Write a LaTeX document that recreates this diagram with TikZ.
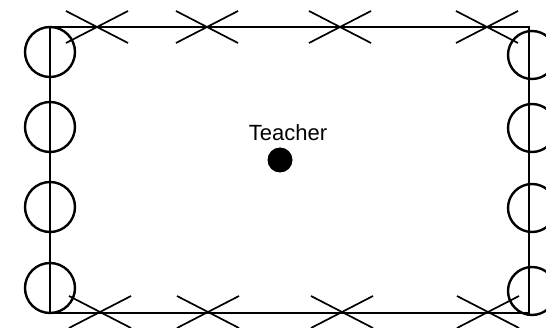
\documentclass[tikz,border=0pt]{standalone}
\usepackage{fontspec}
\setmainfont{Liberation Sans}
\begin{document}
\begin{tikzpicture}[x=1pt,y=-1pt,
  frame/.style={line width=2.4pt,black},
  student/.style={circle,draw,line width=2.4pt,minimum size=50pt,inner sep=0pt},
  arm/.style={line width=1.7pt},
  teacher/.style={circle,fill=black,minimum size=25pt,inner sep=0pt}]
\useasboundingbox (0,0) rectangle (546,328);
% room
\coordinate (tl) at (50,27);
\coordinate (br) at (529,313);
\draw[frame] (tl) rectangle (br);
% students on left and right
\foreach \i/\y in {1/52,2/127,3/207,4/288}
  \node[student] (L\i) at (50,\y) {};
\foreach \i/\y in {1/55,2/128,3/208,4/291}
  \node[student,minimum size=48pt] (R\i) at (532,\y) {};
% crosses on top and bottom
\foreach \i/\x in {1/97,2/207,3/340,4/487}{
  \coordinate (T\i) at (\x,27);
  \draw[arm] ([shift={(-31,-16)}]T\i) -- ([shift={(31,16)}]T\i);
  \draw[arm] ([shift={(-31,16)}]T\i) -- ([shift={(31,-16)}]T\i);
}
\foreach \i/\x in {1/100,2/208,3/342,4/488}{
  \coordinate (B\i) at (\x,312);
  \draw[arm] ([shift={(-31,-16)}]B\i) -- ([shift={(31,16)}]B\i);
  \draw[arm] ([shift={(-31,16)}]B\i) -- ([shift={(31,-16)}]B\i);
}
% teacher
\node[teacher] (dot) at (280,160) {};
\node[font=\fontsize{22}{22}\selectfont,anchor=base] (lbl) at (288,141) {Teacher};
\end{tikzpicture}
\end{document}
